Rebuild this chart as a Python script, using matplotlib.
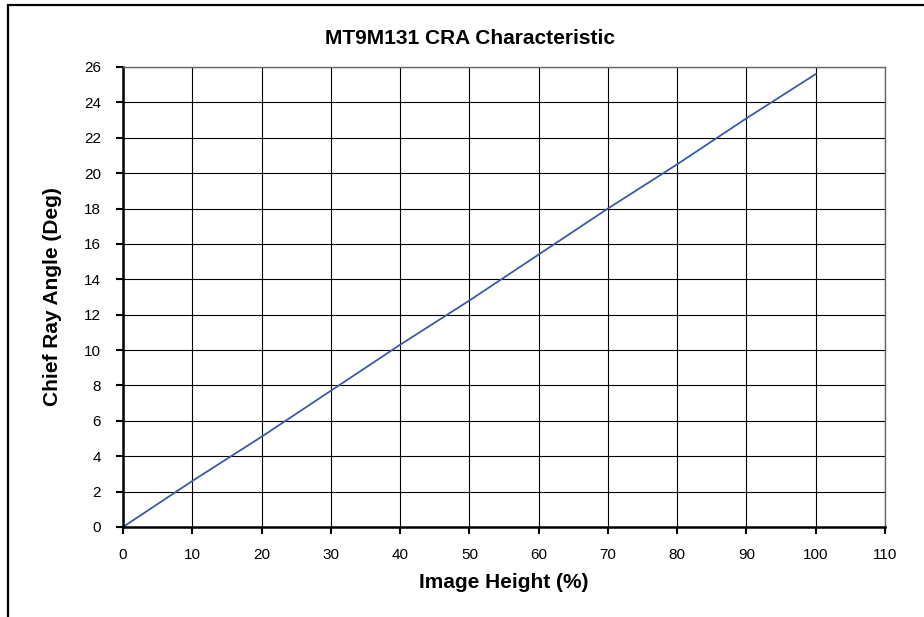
import numpy as np
import matplotlib
matplotlib.use("Agg")
import matplotlib.pyplot as plt
from matplotlib.patches import Rectangle

# ---- Data ----
image_height = [0, 10, 20, 30, 40, 50, 60, 70, 80, 90, 100]
cra_deg = [0, 2.6, 5.1, 7.7, 10.3, 12.8, 15.4, 18.0, 20.5, 23.1, 25.6]

x_ticks = list(range(0, 111, 10))
y_ticks = list(range(0, 27, 2))

plt.rcParams["font.family"] = ["Liberation Sans", "DejaVu Sans"]

fig = plt.figure(figsize=(9.24, 6.17), dpi=100)
W, H = 924, 617

# outer chart frame (only left and top edges are visible in the crop)
fig.patches.append(Rectangle((8 / W, -0.1), 1.2, (H - 5) / H + 0.1,
                             transform=fig.transFigure, fill=False,
                             edgecolor="black", linewidth=1.6))

# plot area in pixels: x 123..885, y 67..527
ax = fig.add_axes([123 / W, (H - 527) / H, (885 - 123) / W, (527 - 67) / H])
ax.plot(image_height, cra_deg, color="#3A5BA8", linewidth=1.3)

ax.set_xlim(0, 110)
ax.set_ylim(0, 26)
ax.set_xticks(x_ticks)
ax.set_yticks(y_ticks)
ax.grid(True, color="black", linewidth=0.8)
ax.set_axisbelow(True)

for side in ["top", "right"]:
    ax.spines[side].set_color("#666666")
    ax.spines[side].set_linewidth(1.0)
for side in ["left", "bottom"]:
    ax.spines[side].set_color("black")
    ax.spines[side].set_linewidth(1.8)

ax.tick_params(axis="both", direction="out", length=5, width=1.5,
               labelsize=11, color="black")
ax.tick_params(axis="y", pad=11)
ax.tick_params(axis="x", pad=10)

fig.text(470 / W, (H - 38) / H, "MT9M131 CRA Characteristic",
         ha="center", va="center", fontsize=15, fontweight="bold")
fig.text(504 / W, (H - 583) / H, "Image Height (%)",
         ha="center", va="center", fontsize=15, fontweight="bold")
fig.text(53 / W, (H - 297) / H, "Chief Ray Angle (Deg)",
         ha="center", va="center", rotation=90, fontsize=15, fontweight="bold")

fig.savefig("out.png", dpi=100)
